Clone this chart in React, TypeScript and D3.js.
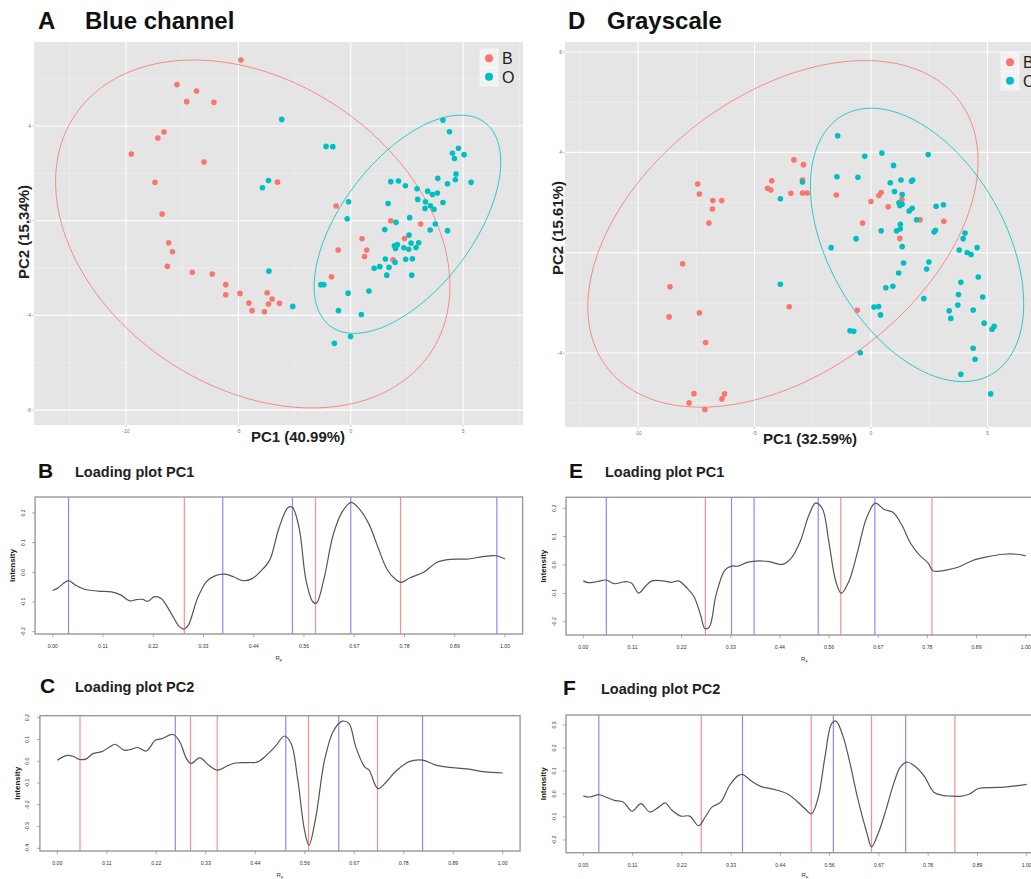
import React from 'react';
import * as d3 from 'd3';

const W = 1031;
const H = 879;
const FONT = "'Liberation Sans', Arial, Helvetica, sans-serif";
const RED = '#F8766D';
const TEAL = '#00BFC4';

// ---------- Panel A (Blue channel) scores ----------
const blueB: [number, number][] = [
  [-4.89, 6.79], [-7.73, 5.75], [-6.86, 5.48], [-7.3, 5.03], [-6.09, 5.0], [-8.31, 3.75], [-8.58, 3.49],
  [-9.76, 2.82], [-6.53, 2.48], [-8.71, 1.62], [-3.26, 1.63], [-8.39, 0.28], [-0.65, 0.62], [1.78, 0.0],
  [3.11, -0.14], [-8.1, -0.93], [-7.93, -1.31], [0.5, -0.76], [2.39, -0.75], [-0.56, -1.24], [0.71, -1.24],
  [0.61, -1.51], [1.88, -1.65], [-8.16, -1.93], [-7.05, -2.18], [-6.16, -2.25], [-0.86, -2.37], [-5.56, -2.7],
  [-5.56, -3.13], [-4.93, -3.07], [-3.72, -3.04], [-3.5, -3.31], [-4.53, -3.48], [-3.66, -3.52], [-3.17, -3.49],
  [-4.39, -3.8], [-3.84, -3.85],
];
const blueO: [number, number][] = [
  [-3.07, 4.28], [-1.1, 3.14], [-0.8, 3.13], [4.1, 4.25], [4.39, 3.76], [4.52, 2.85], [4.79, 3.06], [4.61, 2.63],
  [5.04, 2.79], [4.68, 1.97], [3.87, 1.79], [4.65, 1.73], [4.3, 1.56], [5.35, 1.62], [-3.66, 1.7], [-3.93, 1.39],
  [1.78, 1.65], [2.12, 1.68], [2.43, 1.48], [2.95, 1.35], [3.42, 1.25], [3.63, 1.11], [3.85, 1.17], [2.98, 0.9],
  [3.32, 0.8], [3.54, 0.63], [3.3, 0.52], [3.7, 0.48], [4.1, 0.77], [-0.1, 0.8], [1.66, 0.73], [-0.16, 0.08],
  [2.01, -0.07], [2.62, 0.13], [3.76, -0.14], [3.53, -0.39], [4.3, -0.42], [1.51, -0.37], [2.59, -0.61],
  [2.68, -0.94], [3.02, -0.93], [2.9, -1.13], [1.94, -1.06], [2.07, -1.01], [1.99, -1.17], [2.36, -1.14],
  [2.58, -1.21], [1.54, -1.62], [2.44, -1.63], [2.74, -1.61], [1.97, -1.76], [1.04, -2.01], [1.29, -1.94],
  [1.7, -1.97], [1.6, -2.3], [2.71, -2.3], [-3.64, -2.13], [-1.33, -2.7], [-1.2, -2.7], [-0.12, -3.06],
  [0.81, -2.97], [-2.58, -3.62], [-0.55, -3.8], [0.47, -3.96], [-0.01, -4.89], [-0.73, -5.18],
];
const blueEllB = { cx: -4.36, cy: -0.56, rx: 8.77, ry: 7.35, rho: -0.3 };
const blueEllO = { cx: 2.52, cy: -0.15, rx: 4.15, ry: 4.61, rho: 0.57 };

// ---------- Panel D (Grayscale) scores ----------
const grayB: [number, number][] = [
  [-3.31, 3.7], [-2.9, 3.51], [-4.26, 2.87], [-4.44, 2.57], [-4.3, 2.5], [-2.94, 2.9], [-3.44, 2.37],
  [-2.94, 2.38], [-2.74, 2.38], [-1.49, 2.3], [-7.44, 2.74], [-7.37, 2.34], [-6.79, 2.08], [-6.41, 2.08],
  [-6.81, 1.74], [-6.96, 1.18], [0.44, 2.4], [0.34, 2.28], [0.0, 2.04], [0.74, 1.83], [1.33, 2.12],
  [-0.36, 1.18], [2.11, 1.31], [3.13, 1.25], [1.24, 0.57], [-8.09, -0.44], [-8.63, -1.36], [-8.67, -2.56],
  [-7.37, -2.4], [-3.51, -2.16], [-0.59, -2.3], [-7.1, -3.58], [-7.6, -5.62], [-7.81, -5.99], [-7.13, -6.25],
  [-6.29, -5.63], [-6.4, -5.83],
];
const grayO: [number, number][] = [
  [-1.43, 4.66], [0.47, 3.97], [-0.27, 3.84], [2.46, 3.91], [0.97, 3.48], [-1.46, 3.03], [-0.56, 3.01],
  [0.83, 2.79], [1.29, 2.9], [1.74, 2.85], [1.79, 2.9], [-2.94, 2.82], [1.01, 2.44], [1.34, 2.32], [-3.89, 2.15],
  [1.2, 1.99], [1.34, 1.93], [1.24, 1.88], [2.8, 1.85], [3.11, 1.91], [1.64, 1.66], [1.77, 1.77], [1.96, 1.31],
  [1.26, 1.13], [1.1, 0.87], [1.26, 0.95], [0.44, 0.87], [2.77, 0.89], [2.71, 0.82], [-0.64, 0.56], [-1.71, 0.2],
  [4.04, 0.78], [3.96, 0.56], [1.34, 0.24], [3.79, 0.11], [4.13, 0.01], [4.3, -0.07], [4.56, 0.2], [2.49, -0.37],
  [1.4, -0.41], [2.39, -0.65], [1.19, -0.81], [4.61, -0.97], [3.86, -1.18], [-3.89, -1.26], [0.94, -1.34],
  [0.64, -1.4], [3.76, -1.67], [2.27, -1.83], [4.8, -1.77], [3.73, -2.09], [0.13, -2.17], [0.33, -2.15],
  [0.41, -2.48], [3.36, -2.32], [3.43, -2.62], [4.39, -2.29], [4.86, -2.81], [5.2, -3.05], [5.29, -2.94],
  [-0.9, -3.11], [-0.74, -3.13], [-0.46, -3.99], [4.39, -3.81], [4.47, -4.25], [3.86, -4.85], [5.14, -5.63],
];
const grayEllB = { cx: -3.78, cy: 0.75, rx: 8.38, ry: 6.91, rho: 0.42 };
const grayEllO = { cx: 1.98, cy: 0.31, rx: 4.58, ry: 5.45, rho: -0.43 };

const scatterXMajor = [-10, -5, 0, 5];
const scatterXMinor = [-12.5, -7.5, -2.5, 2.5, 7.5];
const blueYMajor = [4, 0, -4, -8];
const blueYMinor = [6, 2, -2, -6];
const grayYMajor = [8, 4, 0, -4];
const grayYMinor = [6, 2, -2, -6];
const groups = ['B', 'O'];

// ---------- Loading plots ----------
const rfTicks = [0, 1 / 9, 2 / 9, 3 / 9, 4 / 9, 5 / 9, 6 / 9, 7 / 9, 8 / 9, 1];
const rfLabels = ['0.00', '0.11', '0.22', '0.33', '0.44', '0.56', '0.67', '0.78', '0.89', '1.00'];

const loadB: [number, number][] = [
  [0, -0.061], [0.01, -0.054], [0.035, -0.028], [0.05, -0.043], [0.07, -0.057], [0.1, -0.063], [0.13, -0.066],
  [0.15, -0.076], [0.17, -0.096], [0.185, -0.092], [0.2, -0.091], [0.21, -0.098], [0.225, -0.082], [0.24, -0.088],
  [0.26, -0.133], [0.28, -0.183], [0.291, -0.191], [0.3, -0.178], [0.32, -0.088], [0.34, -0.031], [0.36, -0.011],
  [0.38, -0.006], [0.4, -0.015], [0.42, -0.028], [0.44, -0.022], [0.46, 0.004], [0.48, 0.042], [0.5, 0.148],
  [0.52, 0.218], [0.53, 0.219], [0.545, 0.148], [0.56, -0.026], [0.575, -0.099], [0.583, -0.104], [0.6, -0.02],
  [0.62, 0.126], [0.64, 0.204], [0.66, 0.236], [0.68, 0.21], [0.7, 0.16], [0.72, 0.081], [0.74, 0.008],
  [0.76, -0.026], [0.77, -0.034], [0.79, -0.018], [0.82, 0.0], [0.85, 0.034], [0.88, 0.044], [0.92, 0.045],
  [0.95, 0.053], [0.98, 0.056], [1.0, 0.045],
];
const loadBBlue = [0.035, 0.376, 0.53, 0.659, 0.982];
const loadBRed = [0.291, 0.581, 0.769];
const loadBYTicks = [0.2, 0.1, 0.0, -0.1, -0.2];

const loadC: [number, number][] = [
  [0, 0.005], [0.02, 0.026], [0.035, 0.023], [0.05, 0.008], [0.065, 0.011], [0.08, 0.035], [0.1, 0.044],
  [0.12, 0.069], [0.13, 0.078], [0.15, 0.051], [0.165, 0.054], [0.18, 0.063], [0.2, 0.047], [0.22, 0.096],
  [0.235, 0.104], [0.26, 0.123], [0.275, 0.089], [0.29, 0.012], [0.3, -0.011], [0.32, 0.015], [0.34, -0.018],
  [0.36, -0.041], [0.38, -0.023], [0.4, -0.008], [0.43, -0.006], [0.45, -0.003], [0.47, 0.028], [0.49, 0.069],
  [0.51, 0.116], [0.525, 0.081], [0.54, -0.087], [0.555, -0.317], [0.565, -0.386], [0.58, -0.263], [0.6, 0.005],
  [0.62, 0.139], [0.64, 0.184], [0.655, 0.173], [0.67, 0.066], [0.69, -0.026], [0.7, -0.041], [0.72, -0.126],
  [0.74, -0.092], [0.76, -0.046], [0.79, -0.002], [0.82, 0.005], [0.85, -0.018], [0.88, -0.028], [0.92, -0.035],
  [0.96, -0.049], [1.0, -0.054],
];
const loadCBlue = [0.265, 0.513, 0.632, 0.82];
const loadCRed = [0.051, 0.299, 0.359, 0.564, 0.719];
const loadCYTicks = [0.2, 0.1, 0.0, -0.1, -0.2, -0.3, -0.4];

const loadE: [number, number][] = [
  [0, -0.056], [0.01, -0.062], [0.03, -0.059], [0.052, -0.053], [0.07, -0.066], [0.09, -0.06], [0.1, -0.059],
  [0.11, -0.065], [0.125, -0.099], [0.14, -0.076], [0.155, -0.056], [0.18, -0.056], [0.2, -0.061], [0.215, -0.056],
  [0.235, -0.082], [0.25, -0.111], [0.265, -0.176], [0.275, -0.224], [0.285, -0.218], [0.3, -0.106], [0.32, -0.018],
  [0.335, -0.004], [0.35, -0.004], [0.37, 0.009], [0.39, 0.014], [0.42, 0.012], [0.45, 0.002], [0.47, 0.024],
  [0.49, 0.082], [0.51, 0.176], [0.525, 0.218], [0.54, 0.2], [0.555, 0.082], [0.57, -0.053], [0.583, -0.1],
  [0.6, -0.059], [0.62, 0.047], [0.64, 0.165], [0.66, 0.218], [0.68, 0.196], [0.7, 0.186], [0.72, 0.141],
  [0.74, 0.076], [0.76, 0.035], [0.78, 0.006], [0.79, -0.02], [0.82, -0.018], [0.85, -0.006], [0.88, 0.016],
  [0.91, 0.028], [0.95, 0.038], [0.98, 0.038], [1.0, 0.032],
];
const loadEBlue = [0.052, 0.335, 0.386, 0.531, 0.659];
const loadERed = [0.276, 0.582, 0.788];
const loadEYTicks = [0.2, 0.1, 0.0, -0.1, -0.2];

const loadF: [number, number][] = [
  [0, -0.009], [0.015, -0.013], [0.035, -0.003], [0.05, -0.013], [0.07, -0.028], [0.09, -0.035], [0.11, -0.075],
  [0.13, -0.042], [0.15, -0.078], [0.17, -0.057], [0.185, -0.039], [0.2, -0.071], [0.22, -0.096], [0.24, -0.096],
  [0.26, -0.138], [0.275, -0.1], [0.29, -0.057], [0.31, -0.035], [0.33, 0.038], [0.35, 0.081], [0.36, 0.084],
  [0.38, 0.055], [0.4, 0.033], [0.43, 0.02], [0.46, 0.001], [0.48, -0.028], [0.5, -0.064], [0.515, -0.086],
  [0.53, -0.013], [0.545, 0.161], [0.56, 0.306], [0.57, 0.317], [0.585, 0.255], [0.6, 0.146], [0.62, -0.028],
  [0.64, -0.172], [0.65, -0.23], [0.665, -0.172], [0.68, -0.086], [0.7, 0.045], [0.715, 0.117], [0.73, 0.139],
  [0.75, 0.117], [0.77, 0.074], [0.79, 0.009], [0.81, -0.006], [0.83, -0.009], [0.85, -0.01], [0.87, -0.001],
  [0.89, 0.023], [0.92, 0.028], [0.95, 0.03], [0.98, 0.036], [1.0, 0.042],
];
const loadFBlue = [0.035, 0.359, 0.564, 0.727];
const loadFRed = [0.266, 0.514, 0.65, 0.838];
const loadFYTicks = [0.3, 0.2, 0.1, 0.0, -0.1, -0.2];

type Ell = { cx: number; cy: number; rx: number; ry: number; rho: number };

function ellipsePath(e: Ell, x: any, y: any) {
  const phi = Math.acos(e.rho);
  const pts = d3.range(0, 360, 2).map((a) => {
    const t = (a * Math.PI) / 180;
    return [x(e.cx + e.rx * Math.cos(t)), y(e.cy + e.ry * Math.cos(t + phi))] as [number, number];
  });
  return d3.line().curve(d3.curveLinearClosed)(pts) as string;
}

function ScatterPanel(p: any) {
  const x = d3.scaleLinear().domain(p.xDomain).range([p.left, p.right]);
  const y = d3.scaleLinear().domain(p.yDomain).range([p.bottom, p.top]);
  const clipId = 'clip-' + p.id;
  return (
    <g>
      <defs>
        <clipPath id={clipId}>
          <rect x={p.left} y={p.top} width={p.right - p.left} height={p.bottom - p.top} />
        </clipPath>
      </defs>
      <text x={p.letterX} y={p.titleY} fontFamily={FONT} fontWeight="bold" fontSize={24} fill="#111">{p.letter}</text>
      <text x={p.titleX} y={p.titleY} fontFamily={FONT} fontWeight="bold" fontSize={24} fill="#111">{p.title}</text>
      <rect x={p.left} y={p.top} width={p.right - p.left} height={p.bottom - p.top} fill="#E5E5E5" />
      <g clipPath={`url(#${clipId})`}>
        {p.xMinor.map((v: number) => (
          <line key={'xm' + v} x1={x(v)} x2={x(v)} y1={p.top} y2={p.bottom} stroke="#F2F2F2" strokeWidth={0.6} />
        ))}
        {p.yMinor.map((v: number) => (
          <line key={'ym' + v} y1={y(v)} y2={y(v)} x1={p.left} x2={p.right} stroke="#F2F2F2" strokeWidth={0.6} />
        ))}
        {p.xMajor.map((v: number) => (
          <line key={'xM' + v} x1={x(v)} x2={x(v)} y1={p.top} y2={p.bottom} stroke="#FFFFFF" strokeWidth={1.1} />
        ))}
        {p.yMajor.map((v: number) => (
          <line key={'yM' + v} y1={y(v)} y2={y(v)} x1={p.left} x2={p.right} stroke="#FFFFFF" strokeWidth={1.1} />
        ))}
        <path d={ellipsePath(p.ellB, x, y)} fill="none" stroke={RED} strokeWidth={1} strokeOpacity={0.8} />
        <path d={ellipsePath(p.ellO, x, y)} fill="none" stroke={TEAL} strokeWidth={1} strokeOpacity={0.8} />
        {p.reds.map((d: [number, number], i: number) => (
          <circle key={'r' + i} cx={x(d[0])} cy={y(d[1])} r={2.8} fill={RED} />
        ))}
        {p.teals.map((d: [number, number], i: number) => (
          <circle key={'t' + i} cx={x(d[0])} cy={y(d[1])} r={2.8} fill={TEAL} />
        ))}
        {groups.map((g, i) => (
          <g key={g}>
            <rect x={p.legendX} y={p.legendY + i * 18.5} width={18} height={18.5} fill="#F2F2F2" stroke="#FFFFFF" strokeWidth={0.5} />
            <circle cx={p.legendX + 9} cy={p.legendY + i * 18.5 + 9.25} r={4} fill={i === 0 ? RED : TEAL} />
          </g>
        ))}
      </g>
      {groups.map((g, i) => (
        <text key={'lt' + g} x={p.legendX + 22} y={p.legendY + i * 18.5 + 15} fontFamily={FONT} fontSize={16} fill="#222">{g}</text>
      ))}
      {p.xMajor.map((v: number) => (
        <g key={'xt' + v}>
          <line x1={x(v)} x2={x(v)} y1={p.bottom} y2={p.bottom + 2} stroke="#999" strokeWidth={0.5} />
          <text x={x(v)} y={p.bottom + 8} textAnchor="middle" fontFamily={FONT} fontSize={5} fill="#777">{v}</text>
        </g>
      ))}
      {p.yMajor.map((v: number) => (
        <g key={'yt' + v}>
          <line x1={p.left - 2} x2={p.left} y1={y(v)} y2={y(v)} stroke="#999" strokeWidth={0.5} />
          <text x={p.left - 3} y={y(v) + 1.8} textAnchor="end" fontFamily={FONT} fontSize={5} fill="#777">{v}</text>
        </g>
      ))}
      <text x={p.xTitleX} y={p.xTitleY} textAnchor="middle" fontFamily={FONT} fontWeight="bold" fontSize={15} fill="#222">{p.xTitle}</text>
      <text transform={`translate(${p.yTitleX},${p.yTitleY}) rotate(-90)`} textAnchor="middle" fontFamily={FONT} fontWeight="bold" fontSize={15} fill="#222">{p.yTitle}</text>
    </g>
  );
}

function LoadingPanel(p: any) {
  const x = d3.scaleLinear().domain([0, 1]).range([p.x0, p.x1]);
  const y = d3.scaleLinear().domain([p.yv0, p.yv1]).range([p.yp0, p.yp1]);
  const left = x(-0.039);
  const right = x(1.039);
  const line = d3
    .line<[number, number]>()
    .x((d) => x(d[0]))
    .y((d) => y(d[1]))
    .curve(d3.curveCatmullRom.alpha(0.5));
  const clipId = 'lclip-' + p.id;
  return (
    <g>
      <defs>
        <clipPath id={clipId}>
          <rect x={left} y={p.top} width={right - left} height={p.bottom - p.top} />
        </clipPath>
      </defs>
      <text x={p.letterX} y={p.titleY + 1} fontFamily={FONT} fontWeight="bold" fontSize={21} fill="#111">{p.letter}</text>
      <text x={p.titleX} y={p.titleY} fontFamily={FONT} fontWeight="bold" fontSize={14.5} fill="#222">{p.title}</text>
      <rect x={left} y={p.top} width={right - left} height={p.bottom - p.top} fill="#fff" />
      <g clipPath={`url(#${clipId})`}>
        {p.blues.map((v: number) => (
          <line key={'b' + v} x1={x(v)} x2={x(v)} y1={p.top} y2={p.bottom} stroke="#6b6bff" strokeOpacity={0.8} strokeWidth={1.2} />
        ))}
        {p.reds.map((v: number) => (
          <line key={'r' + v} x1={x(v)} x2={x(v)} y1={p.top} y2={p.bottom} stroke="#ff7070" strokeOpacity={0.8} strokeWidth={1.2} />
        ))}
        <path d={line(p.curve) as string} fill="none" stroke="#555" strokeWidth={1.2} />
      </g>
      <rect x={left} y={p.top} width={right - left} height={p.bottom - p.top} fill="none" stroke="#999" strokeWidth={1.4} />
      {rfTicks.map((v, i) => (
        <g key={'xt' + i}>
          <line x1={x(v)} x2={x(v)} y1={p.bottom} y2={p.bottom + 3} stroke="#777" strokeWidth={0.6} />
          <text x={x(v)} y={p.bottom + 14} textAnchor="middle" fontFamily={FONT} fontSize={5.2} fill="#333">{rfLabels[i]}</text>
        </g>
      ))}
      {p.yTicks.map((v: number) => (
        <g key={'yt' + v}>
          <line x1={left - 3} x2={left} y1={y(v)} y2={y(v)} stroke="#777" strokeWidth={0.6} />
          <text transform={`translate(${left - 10.5},${y(v)}) rotate(-90)`} textAnchor="middle" fontFamily={FONT} fontSize={5.2} fill="#333">{v.toFixed(1)}</text>
        </g>
      ))}
      <text transform={`translate(${left - 20},${(p.top + p.bottom) / 2}) rotate(-90)`} textAnchor="middle" fontFamily={FONT} fontWeight="bold" fontSize={8} fill="#222">Intensity</text>
      <text x={(x(0) + x(1)) / 2} y={Math.min(p.bottom + 26, 877)} textAnchor="middle" fontFamily={FONT} fontSize={6} fill="#333">
        R<tspan fontSize={4} dy={1.5}>F</tspan>
      </text>
    </g>
  );
}

export default function App() {
  return (
    <svg width={W} height={H} viewBox={`0 0 ${W} ${H}`} style={{ position: 'absolute', left: 0, top: 0, background: '#fff' }}>
      <ScatterPanel
        id="A" letter="A" title="Blue channel" letterX={38} titleX={85} titleY={29}
        left={34} right={523} top={42} bottom={425}
        xDomain={[-14.09, 7.66]} yDomain={[-8.63, 7.55]}
        xMajor={scatterXMajor} xMinor={scatterXMinor} yMajor={blueYMajor} yMinor={blueYMinor}
        reds={blueB} teals={blueO} ellB={blueEllB} ellO={blueEllO}
        legendX={480} legendY={49}
        xTitle="PC1 (40.99%)" xTitleX={298} xTitleY={442}
        yTitle="PC2 (15.34%)" yTitleX={29} yTitleY={232}
      />
      <ScatterPanel
        id="D" letter="D" title="Grayscale" letterX={568} titleX={607} titleY={29}
        left={565} right={1040} top={42} bottom={427}
        xDomain={[-13.14, 7.26]} yDomain={[-6.95, 8.4]}
        xMajor={scatterXMajor} xMinor={scatterXMinor.slice(0, 4)} yMajor={grayYMajor} yMinor={grayYMinor}
        reds={grayB} teals={grayO} ellB={grayEllB} ellO={grayEllO}
        legendX={1001} legendY={53}
        xTitle="PC1 (32.59%)" xTitleX={810} xTitleY={444}
        yTitle="PC2 (15.61%)" yTitleX={563} yTitleY={228}
      />
      <LoadingPanel
        id="B" letter="B" title="Loading plot PC1" letterX={38} titleX={75} titleY={477}
        x0={52.7} x1={505} yv0={0.2} yv1={-0.2} yp0={513} yp1={631.7} top={497} bottom={634}
        curve={loadB} blues={loadBBlue} reds={loadBRed} yTicks={loadBYTicks}
      />
      <LoadingPanel
        id="C" letter="C" title="Loading plot PC2" letterX={40} titleX={75} titleY={692}
        x0={57.3} x1={502.7} yv0={0.2} yv1={-0.4} yp0={717.7} yp1={848.3} top={715.7} bottom={851}
        curve={loadC} blues={loadCBlue} reds={loadCRed} yTicks={loadCYTicks}
      />
      <LoadingPanel
        id="E" letter="E" title="Loading plot PC1" letterX={569} titleX={605} titleY={477}
        x0={583.3} x1={1025.7} yv0={0.2} yv1={-0.2} yp0={508.3} yp1={621.7} top={497.3} bottom={635}
        curve={loadE} blues={loadEBlue} reds={loadERed} yTicks={loadEYTicks}
      />
      <LoadingPanel
        id="F" letter="F" title="Loading plot PC2" letterX={563} titleX={601} titleY={694}
        x0={583.3} x1={1026.7} yv0={0.3} yv1={-0.2} yp0={725} yp1={840} top={715} bottom={852.7}
        curve={loadF} blues={loadFBlue} reds={loadFRed} yTicks={loadFYTicks}
      />
    </svg>
  );
}
